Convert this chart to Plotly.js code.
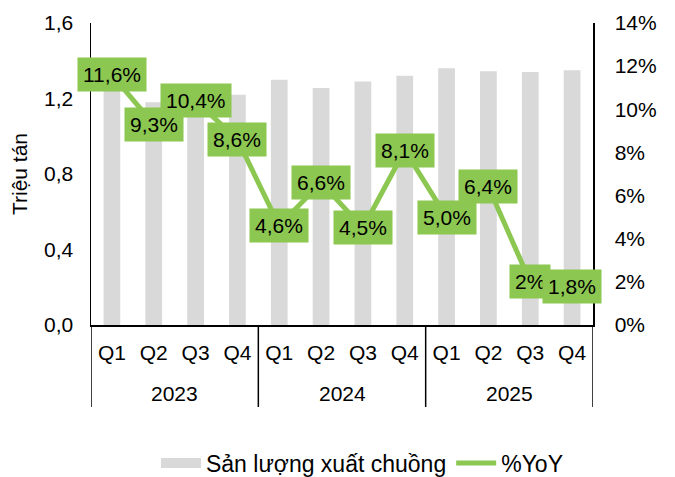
<!DOCTYPE html>
<html>
<head>
<meta charset="utf-8">
<script src="https://cdn.plot.ly/plotly-3.0.1.min.js"></script>
<style>html,body{margin:0;padding:0;background:#fff;}#chart{width:675px;height:477px;}</style>
</head>
<body>
<div id="chart"></div>
<script>
const years = ["2023","2023","2023","2023","2024","2024","2024","2024","2025","2025","2025","2025"];
const quarters = ["Q1","Q2","Q3","Q4","Q1","Q2","Q3","Q4","Q1","Q2","Q3","Q4"];
const output = [1.29, 1.18, 1.25, 1.22, 1.30, 1.255, 1.29, 1.32, 1.36, 1.345, 1.34, 1.35];
const yoy = [11.6, 9.3, 10.4, 8.6, 4.6, 6.6, 4.5, 8.1, 5.0, 6.4, 2.0, 1.8];
const yoyLabels = ["11,6%","9,3%","10,4%","8,6%","4,6%","6,6%","4,5%","8,1%","5,0%","6,4%","2%","1,8%"];

const GREEN = '#8cc751';
const GRAY = '#d9d9d9';
const FONT = 'Liberation Sans, Arial, sans-serif';

// unique category keys, shown with quarter tick text
const cats = quarters.map((q, i) => q + ' ' + years[i]);

// year groups: center index and boundaries
const groups = [];
years.forEach((y, i) => {
  const g = groups.length ? groups[groups.length - 1] : null;
  if (g && g.year === y) g.end = i; else groups.push({year: y, start: i, end: i});
});

const H = 302; // plot height in px (for paper offsets)
const yearAnn = groups.map(g => ({
  x: (g.start + g.end) / 2, xref: 'x', y: -68 / H, yref: 'paper', yanchor: 'middle',
  text: g.year, showarrow: false, font: {family: FONT, size: 21, color: '#000'}
}));
const bounds = [groups[0].start - 0.5].concat(groups.map(g => g.end + 0.5));
const dividers = bounds.map(b => ({
  type: 'line', xref: 'x', x0: b, x1: b, yref: 'paper', y0: 0, y1: -82 / H,
  line: {color: '#000', width: 1.5}
}));

const barTrace = {
  type: 'bar', x: cats, y: output, name: 'Sản lượng xuất chuồng',
  marker: {color: GRAY}, yaxis: 'y', showlegend: false, hoverinfo: 'skip'
};
const barLegend = {
  type: 'scatter', mode: 'lines', x: [null], y: [null], name: 'Sản lượng xuất chuồng',
  line: {color: GRAY, width: 11}, hoverinfo: 'skip'
};
const lineTrace = {
  type: 'scatter', mode: 'lines', x: cats, y: yoy, name: '%YoY',
  line: {color: GREEN, width: 5}, yaxis: 'y2'
};

const labelAnn = yoy.map((v, i) => ({
  x: i, y: v, xref: 'x', yref: 'y2', text: yoyLabels[i], showarrow: false,
  bgcolor: GREEN, borderpad: 5, font: {family: FONT, size: 21, color: '#000'}
}));

const layout = {
  width: 675, height: 477,
  margin: {l: 91, r: 82, t: 23, b: 152},
  paper_bgcolor: '#fff', plot_bgcolor: '#fff',
  separators: ',.',
  font: {family: FONT, size: 21, color: '#000'},
  bargap: 0.6,
  showlegend: true,
  legend: {orientation: 'h', xref: 'container', yref: 'container', x: 0.537, xanchor: 'center',
           y: 0.0294, yanchor: 'middle',
           font: {family: FONT, size: 23, color: '#000'}, traceorder: 'normal', itemwidth: 40},
  xaxis: {
    type: 'category', range: [-0.5, 11.5], tickvals: cats, ticktext: quarters,
    showline: true, linecolor: '#000', linewidth: 1.5,
    ticks: '', showgrid: false, zeroline: false,
    tickfont: {family: FONT, size: 21, color: '#000'}, automargin: false, ticklabelstandoff: 8
  },
  yaxis: {
    range: [0, 1.6], dtick: 0.4, tickformat: '.1f', showline: true, linecolor: '#000',
    linewidth: 1.5, ticks: '', showgrid: false, zeroline: false, automargin: false,
    ticklabelstandoff: 12,
    title: {text: 'Triệu tán', font: {family: FONT, size: 21, color: '#000'}, standoff: 10},
    tickfont: {family: FONT, size: 21, color: '#000'}
  },
  yaxis2: {
    range: [0, 14], dtick: 2, ticksuffix: '%', overlaying: 'y', side: 'right',
    showline: true, linecolor: '#000', linewidth: 1.5, ticks: '', showgrid: false, zeroline: false,
    automargin: false, ticklabelstandoff: 16,
    tickfont: {family: FONT, size: 21, color: '#000'}
  },
  annotations: labelAnn.concat(yearAnn),
  shapes: dividers
};

Plotly.newPlot('chart', [barTrace, barLegend, lineTrace], layout, {staticPlot: true});
</script>
</body>
</html>
